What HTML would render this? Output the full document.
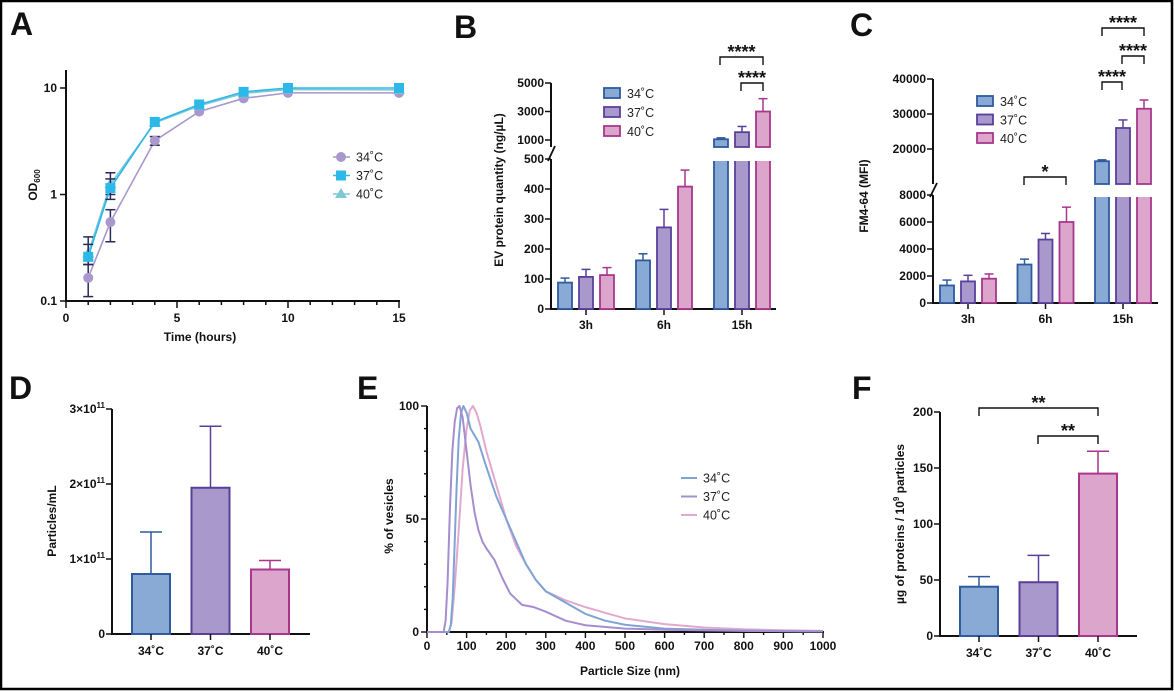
<!DOCTYPE html>
<html><head><meta charset="utf-8"><style>
html,body{margin:0;padding:0;background:#fff}
svg{display:block;font-family:"Liberation Sans",Arial,sans-serif}
.t{font-size:12px;font-weight:bold;fill:#111}
.lg{font-size:12.5px;fill:#222}
.ti{font-size:12px;font-weight:bold;fill:#111}
.let{font-size:32px;font-weight:bold;fill:#111}
.st{font-size:18px;font-weight:bold;fill:#111}
</style></head><body>
<svg id="fig" width="1174" height="691" viewBox="0 0 1174 691">
<rect x="1" y="1" width="1171" height="688" fill="#fff" stroke="#000" stroke-width="2.5"/>
<text class="let" x="10" y="35">A</text>
<text class="let" x="454" y="38">B</text>
<text class="let" x="850" y="36">C</text>
<text class="let" x="9" y="399">D</text>
<text class="let" x="357" y="399">E</text>
<text class="let" x="852" y="399">F</text>
</svg>
<script>
// Panel A data
const aTimes=[1,2,4,6,8,10,15];
const a34=[0.165,0.55,3.2,6.0,8.0,9.0,9.0];
const a37=[0.26,1.15,4.8,7.0,9.2,10.0,10.0];
const a40=[0.28,1.25,4.7,6.8,8.9,9.7,9.6];
const a34lo=[0.11,0.36,2.9,6.0,8.0,9.0,9.0];
const a34hi=[0.22,0.72,3.5,6.0,8.0,9.0,9.0];
const a37lo=[0.22,0.9,4.8,7.0,9.2,10.0,10.0];
const a37hi=[0.34,1.4,4.8,7.0,9.2,10.0,10.0];
const a40lo=[0.24,1.0,4.7,6.8,8.9,9.7,9.6];
const a40hi=[0.40,1.6,4.7,6.8,8.9,9.7,9.6];
const aXTicks=[0,5,10,15];
const aYTicks=[0.1,1,10];
const aYLabels=["0.1","1","10"];
// Panel B data
const bGroups=["3h","6h","15h"];
const b34=[88,162,1050];const b37=[107,272,1550];const b40=[113,408,3000];
const b34e=[15,22,100];const b37e=[25,60,400];const b40e=[25,55,900];
const bLowTicks=[0,100,200,300,400,500];const bHighTicks=[1000,3000,5000];
// Panel C data
const cGroups=["3h","6h","15h"];
const c34=[1300,2850,16500];const c37=[1600,4700,26000];const c40=[1800,6000,31500];
const c34e=[400,400,400];const c37e=[450,450,2300];const c40e=[350,1100,2500];
const cLowTicks=[0,2000,4000,6000,8000];const cHighTicks=[20000,30000,40000];
// Panel D data
const dCats=["34˚C","37˚C","40˚C"];
const dVals=[0.8,1.95,0.86];const dErr=[0.56,0.82,0.12];
const dTicks=[0,1,2,3];
// Panel E data
const e34x=[0,55,60,65,70,75,80,86,92,100,110,120,130,150,175,200,225,250,275,300,350,400,450,500,600,700,800,900,1000];
const e34y=[0,0,3,15,40,65,85,97,100,97,90,87,84,73,60,50,40,30,23,18,13,8,5,3.2,1.5,1,0.6,0.4,0.3];
const e37x=[0,42,47,52,58,64,70,76,82,90,100,110,120,130,140,150,170,190,210,240,270,300,350,400,500,600,800,1000];
const e37y=[0,0,5,22,55,80,93,99,100,95,80,65,53,45,40,37,32,24,17,12,11,9,5,3,1.5,1,0.5,0.3];
const e40x=[0,55,62,70,80,90,100,108,116,125,135,150,175,200,225,250,275,300,350,400,450,500,600,700,800,900,1000];
const e40y=[0,0,4,20,45,72,90,98,100,97,91,80,65,50,38,30,23,18,14,11,8.5,6,3.5,2,1.2,0.8,0.5];
const eXTicks=[0,100,200,300,400,500,600,700,800,900,1000];
const eYTicks=[0,50,100];
// Panel F data
const fCats=["34˚C","37˚C","40˚C"];
const fVals=[44,48,145];const fErr=[9,24,20];
const fTicks=[0,50,100,150,200];

const NS="http://www.w3.org/2000/svg";
const svg=document.getElementById('fig');
function el(tag,attrs,parent,txt){const e=document.createElementNS(NS,tag);for(const k in attrs)e.setAttribute(k,attrs[k]);if(txt!==undefined)e.textContent=txt;(parent||svg).appendChild(e);return e;}
function grp(name){const g=el('g',{});return g;}
const K='#111';
const C34={f:'#8aaad6',s:'#2f5a9e'},C37={f:'#a898cc',s:'#5a3f9a'},C40={f:'#dca6cc',s:'#a8368e'};

// ---------- Panel A ----------
(function(){
const g=grp('panel-a-growth-chart');
const X=t=>66+t*22.2; const Y=v=>301-(Math.log10(v)+1)*106.5;
el('line',{x1:66,y1:70,x2:66,y2:302,stroke:K,'stroke-width':2},g);
el('line',{x1:65,y1:301,x2:400,y2:301,stroke:K,'stroke-width':2},g);
for(let t=0;t<=15;t++){el('line',{x1:X(t),y1:301,x2:X(t),y2:t%5==0?308:305,stroke:K,'stroke-width':1.5},g);}
aXTicks.forEach(t=>el('text',{class:'t',x:X(t),y:322,'text-anchor':'middle'},g,String(t)));
aYTicks.forEach((v,i)=>{el('line',{x1:60,y1:Y(v),x2:66,y2:Y(v),stroke:K,'stroke-width':1.5},g);el('text',{class:'t',x:57,y:Y(v)+4,'text-anchor':'end'},g,aYLabels[i]);});
el('text',{class:'ti',x:200,y:341,'text-anchor':'middle'},g,'Time (hours)');
const yl=el('text',{class:'ti',transform:'translate(37,185) rotate(-90)','text-anchor':'middle'},g);
yl.innerHTML='OD<tspan font-size="8" dy="3">600</tspan>';
const series=[[a34,a34lo,a34hi,'#a898cc','c'],[a40,a40lo,a40hi,'#7fc9d4','t'],[a37,a37lo,a37hi,'#2cb8e8','s']];
series.forEach(([v,lo,hi,col,m])=>{
 const sg=grp('series-a-'+m);g.appendChild(sg);
 el('polyline',{points:aTimes.map((t,i)=>X(t)+','+Y(v[i])).join(' '),fill:'none',stroke:col,'stroke-width':1.6},sg);
 aTimes.forEach((t,i)=>{
  if(hi[i]>lo[i]){el('line',{x1:X(t),y1:Y(hi[i]),x2:X(t),y2:Y(lo[i]),stroke:'#2a2a5a','stroke-width':1.5},sg);
   [hi[i],lo[i]].forEach(q=>el('line',{x1:X(t)-5,y1:Y(q),x2:X(t)+5,y2:Y(q),stroke:'#2a2a5a','stroke-width':1.5},sg));}
  const x=X(t),y=Y(v[i]);
  if(m=='c')el('circle',{cx:x,cy:y,r:5,fill:col},sg);
  else if(m=='s')el('rect',{x:x-5,y:y-5,width:10,height:10,fill:col},sg);
  else el('polygon',{points:`${x},${y-6} ${x-6},${y+4} ${x+6},${y+4}`,fill:col},sg);
 });
});
const lg=grp('legend-a');g.appendChild(lg);
[['34˚C','#a898cc','c'],['37˚C','#2cb8e8','s'],['40˚C','#7fc9d4','t']].forEach(([n,c,m],i)=>{
 const y=157+i*18.5;
 el('line',{x1:333,y1:y,x2:350,y2:y,stroke:c,'stroke-width':1.6},lg);
 if(m=='c')el('circle',{cx:341,cy:y,r:5,fill:c},lg);else if(m=='s')el('rect',{x:336,y:y-5,width:10,height:10,fill:c},lg);else el('polygon',{points:`341,${y-6} 335,${y+4} 347,${y+4}`,fill:c},lg);
 el('text',{class:'lg',x:356,y:y+4.5},lg,n);
});
})();

// ---------- broken-axis bar chart ----------
function brokenBars(o){
 const g=grp(o.name);
 const yAt=v=>v<=o.lowMax? o.y0-(v/o.lowMax)*(o.y0-o.lowTop) : o.hiRefY-(v-o.hiRef)*o.hiScale;
 el('line',{x1:o.ax,y1:o.y0+1,x2:o.ax,y2:o.lowTop,stroke:K,'stroke-width':2},g);
 el('line',{x1:o.ax,y1:o.hiBot,x2:o.ax,y2:yAt(o.hiTicks[o.hiTicks.length-1]),stroke:K,'stroke-width':2},g);
 el('line',{x1:o.ax-3,y1:o.lowTop+2,x2:o.ax+4,y2:o.hiBot-1,stroke:K,'stroke-width':1.8},g);
 el('line',{x1:o.ax-1,y1:o.y0,x2:o.axEnd,y2:o.y0,stroke:K,'stroke-width':2},g);
 o.lowTicks.concat(o.hiTicks).forEach(v=>{const y=yAt(v);el('line',{x1:o.ax-6,y1:y,x2:o.ax,y2:y,stroke:K,'stroke-width':1.5},g);el('text',{class:'t',x:o.ax-7,y:y+4,'text-anchor':'end'},g,String(v));});
 const cols=[C34,C37,C40];
 o.groups.forEach((gn,gi)=>{
  const cx=o.g0+gi*o.gp;
  el('line',{x1:cx,y1:o.y0,x2:cx,y2:o.y0+6,stroke:K,'stroke-width':1.5},g);
  el('text',{class:'t',x:cx,y:o.y0+20,'text-anchor':'middle'},g,gn);
  o.vals.forEach((arr,si)=>{
   const v=arr[gi],e=o.errs[si][gi],c=cols[si];const x=cx+(si-1)*o.bs-o.bw/2;
   const bg=grp('bar-'+gn+'-'+si);g.appendChild(bg);
   const top=yAt(v),ey=yAt(v+e);
   el('line',{x1:x+o.bw/2,y1:top,x2:x+o.bw/2,y2:ey,stroke:c.s,'stroke-width':1.5},bg);
   el('line',{x1:x+o.bw/2-4.5,y1:ey,x2:x+o.bw/2+4.5,y2:ey,stroke:c.s,'stroke-width':1.5},bg);
   if(v>o.lowMax){
    el('rect',{x:x,y:o.lowTop,width:o.bw,height:o.y0-o.lowTop,fill:c.f,stroke:c.s,'stroke-width':1.8},bg);
    el('rect',{x:x,y:top,width:o.bw,height:o.hiBot-top,fill:c.f,stroke:c.s,'stroke-width':1.8},bg);
    el('rect',{x:x-2,y:o.hiBot+1,width:o.bw+4,height:o.lowTop-o.hiBot+1,fill:'#fff'},bg);
   } else el('rect',{x:x,y:top,width:o.bw,height:o.y0-top,fill:c.f,stroke:c.s,'stroke-width':1.8},bg);
  });
 });
 el('text',{class:'ti',transform:`translate(${o.ylx},${o.yly}) rotate(-90)`,'text-anchor':'middle'},g,o.ylab);
 const lg=grp(o.name+'-legend');g.appendChild(lg);
 ['34˚C','37˚C','40˚C'].forEach((n,i)=>{const y=o.lgy+i*o.lgd;el('rect',{x:o.lgx,y:y,width:16,height:10,fill:cols[i].f,stroke:cols[i].s,'stroke-width':1.8},lg);el('text',{class:'lg',x:o.lgx+23,y:y+10},lg,n);});
 o.sig.forEach(([x1,x2,y,s])=>{const sg=grp('significance-'+s.length);g.appendChild(sg);
  el('polyline',{points:`${x1},${y+8} ${x1},${y} ${x2},${y} ${x2},${y+8}`,fill:'none',stroke:K,'stroke-width':1.4},sg);
  el('text',{class:'st',x:(x1+x2)/2,y:y+1,'text-anchor':'middle'},sg,s);});
 return g;
}
brokenBars({name:'panel-b-ev-protein-chart',ax:551,axEnd:776,y0:309,lowTop:159,lowMax:500,hiBot:147,hiRef:1000,hiRefY:140,hiScale:28.5/2000,
 lowTicks:bLowTicks,hiTicks:bHighTicks,groups:bGroups,vals:[b34,b37,b40],errs:[b34e,b37e,b40e],g0:586,gp:78,bs:21,bw:14,
 ylab:'EV protein quantity (ng/µL)',ylx:503,yly:190,lgx:604,lgy:88,lgd:19,
 sig:[[720,763,57,'****'],[741,763,83,'****']]});
brokenBars({name:'panel-c-fm4-64-chart',ax:933,axEnd:1158,y0:303,lowTop:195,lowMax:8000,hiBot:184,hiRef:20000,hiRefY:149,hiScale:35/10000,
 lowTicks:cLowTicks,hiTicks:cHighTicks,groups:cGroups,vals:[c34,c37,c40],errs:[c34e,c37e,c40e],g0:968,gp:77.5,bs:21,bw:14,
 ylab:'FM4-64 (MFI)',ylx:868,yly:196,lgx:977,lgy:96,lgd:18.5,
 sig:[[1024,1066,177,'*'],[1102,1144,28,'****'],[1122,1144,56,'****'],[1102,1122,82,'****']]});

// ---------- simple bars ----------
function simpleBars(o){
 const g=grp(o.name);const Y=v=>o.y0-v*o.sc;
 el('line',{x1:o.ax,y1:o.y0+1,x2:o.ax,y2:Y(o.ticks[o.ticks.length-1]),stroke:K,'stroke-width':2},g);
 el('line',{x1:o.ax-1,y1:o.y0,x2:o.axEnd,y2:o.y0,stroke:K,'stroke-width':2},g);
 o.ticks.forEach((v,i)=>{el('line',{x1:o.ax-6,y1:Y(v),x2:o.ax,y2:Y(v),stroke:K,'stroke-width':1.5},g);
  const t=el('text',{class:'t',x:o.ax-7,y:Y(v)+4,'text-anchor':'end'},g);t.innerHTML=o.tl(v);});
 const cols=[C34,C37,C40];
 o.cats.forEach((c,i)=>{const cx=o.c0+i*o.cp,x=cx-o.bw/2,col=cols[i];const bg=grp('bar-'+c);g.appendChild(bg);
  const top=Y(o.vals[i]),ey=Y(o.vals[i]+o.err[i]);
  el('line',{x1:cx,y1:top,x2:cx,y2:ey,stroke:col.s,'stroke-width':1.5},bg);
  el('line',{x1:cx-11,y1:ey,x2:cx+11,y2:ey,stroke:col.s,'stroke-width':1.5},bg);
  el('rect',{x:x,y:top,width:o.bw,height:o.y0-top,fill:col.f,stroke:col.s,'stroke-width':2},bg);
  el('line',{x1:cx,y1:o.y0,x2:cx,y2:o.y0+6,stroke:K,'stroke-width':1.5},g);
  el('text',{class:'t',x:cx,y:o.y0+21,'text-anchor':'middle'},g,c);});
 const yl=el('text',{class:'ti',transform:`translate(${o.ylx},${o.yly}) rotate(-90)`,'text-anchor':'middle'},g);yl.innerHTML=o.ylab;
 (o.sig||[]).forEach(([x1,x2,y,s])=>{const sg=grp('significance-bracket');g.appendChild(sg);
  el('polyline',{points:`${x1},${y+8} ${x1},${y} ${x2},${y} ${x2},${y+8}`,fill:'none',stroke:K,'stroke-width':1.4},sg);
  el('text',{class:'st',x:(x1+x2)/2,y:y+1,'text-anchor':'middle'},sg,s);});
}
simpleBars({name:'panel-d-particles-chart',ax:112,axEnd:310,y0:634,sc:75,ticks:dTicks,tl:v=>v==0?'0':v+'×10<tspan font-size="8" dy="-5">11</tspan>',
 cats:dCats,vals:dVals,err:dErr,c0:151,cp:59.5,bw:38,ylab:'Particles/mL',ylx:56,yly:521});
simpleBars({name:'panel-f-protein-per-particle-chart',ax:940,axEnd:1137,y0:636,sc:224/200,ticks:fTicks,tl:v=>String(v),
 cats:fCats,vals:fVals,err:fErr,c0:979,cp:59.5,bw:38,ylab:'µg of proteins / 10<tspan font-size="8" dy="-5">9</tspan><tspan dy="5"> particles</tspan>',ylx:904,yly:524,
 sig:[[979,1098,408,'**'],[1038,1098,436,'**']]});

// ---------- Panel E ----------
(function(){
const g=grp('panel-e-size-distribution-chart');
const X=v=>427+v*0.396,Y=v=>632-v*2.26;
el('line',{x1:427,y1:633,x2:427,y2:Y(100),stroke:K,'stroke-width':2},g);
el('line',{x1:426,y1:632,x2:824,y2:632,stroke:K,'stroke-width':2},g);
for(let v=0;v<=1000;v+=50)el('line',{x1:X(v),y1:632,x2:X(v),y2:v%100==0?638:635,stroke:K,'stroke-width':1.4},g);
for(let v=0;v<=100;v+=10)el('line',{x1:v%50==0?421:424,y1:Y(v),x2:427,y2:Y(v),stroke:K,'stroke-width':1.4},g);
eXTicks.forEach(v=>el('text',{class:'t',x:X(v),y:650,'text-anchor':'middle','font-size':'10.5'},g,String(v)));
eYTicks.forEach(v=>el('text',{class:'t',x:419,y:Y(v)+4,'text-anchor':'end'},g,String(v)));
el('text',{class:'ti',x:630,y:675,'text-anchor':'middle'},g,'Particle Size (nm)');
el('text',{class:'ti',transform:'translate(393,516) rotate(-90)','text-anchor':'middle'},g,'% of vesicles');
[[e40x,e40y,'#e2a9cf','40'],[e34x,e34y,'#7fa4d4','34'],[e37x,e37y,'#a58ecf','37']].forEach(([xs,ys,c,n])=>{
 const p=el('polyline',{points:xs.map((x,i)=>X(x)+','+Y(ys[i])).join(' '),fill:'none',stroke:c,'stroke-width':2,'stroke-linejoin':'round'},g);
 
 
});
const lg=grp('legend-e');g.appendChild(lg);
[['34˚C','#7fa4d4'],['37˚C','#a58ecf'],['40˚C','#e2a9cf']].forEach(([n,c],i)=>{const y=478+i*18.5;
 el('line',{x1:681,y1:y,x2:697,y2:y,stroke:c,'stroke-width':2},lg);el('text',{class:'lg',x:703,y:y+4.5},lg,n);});
})();
</script>
</body></html>
